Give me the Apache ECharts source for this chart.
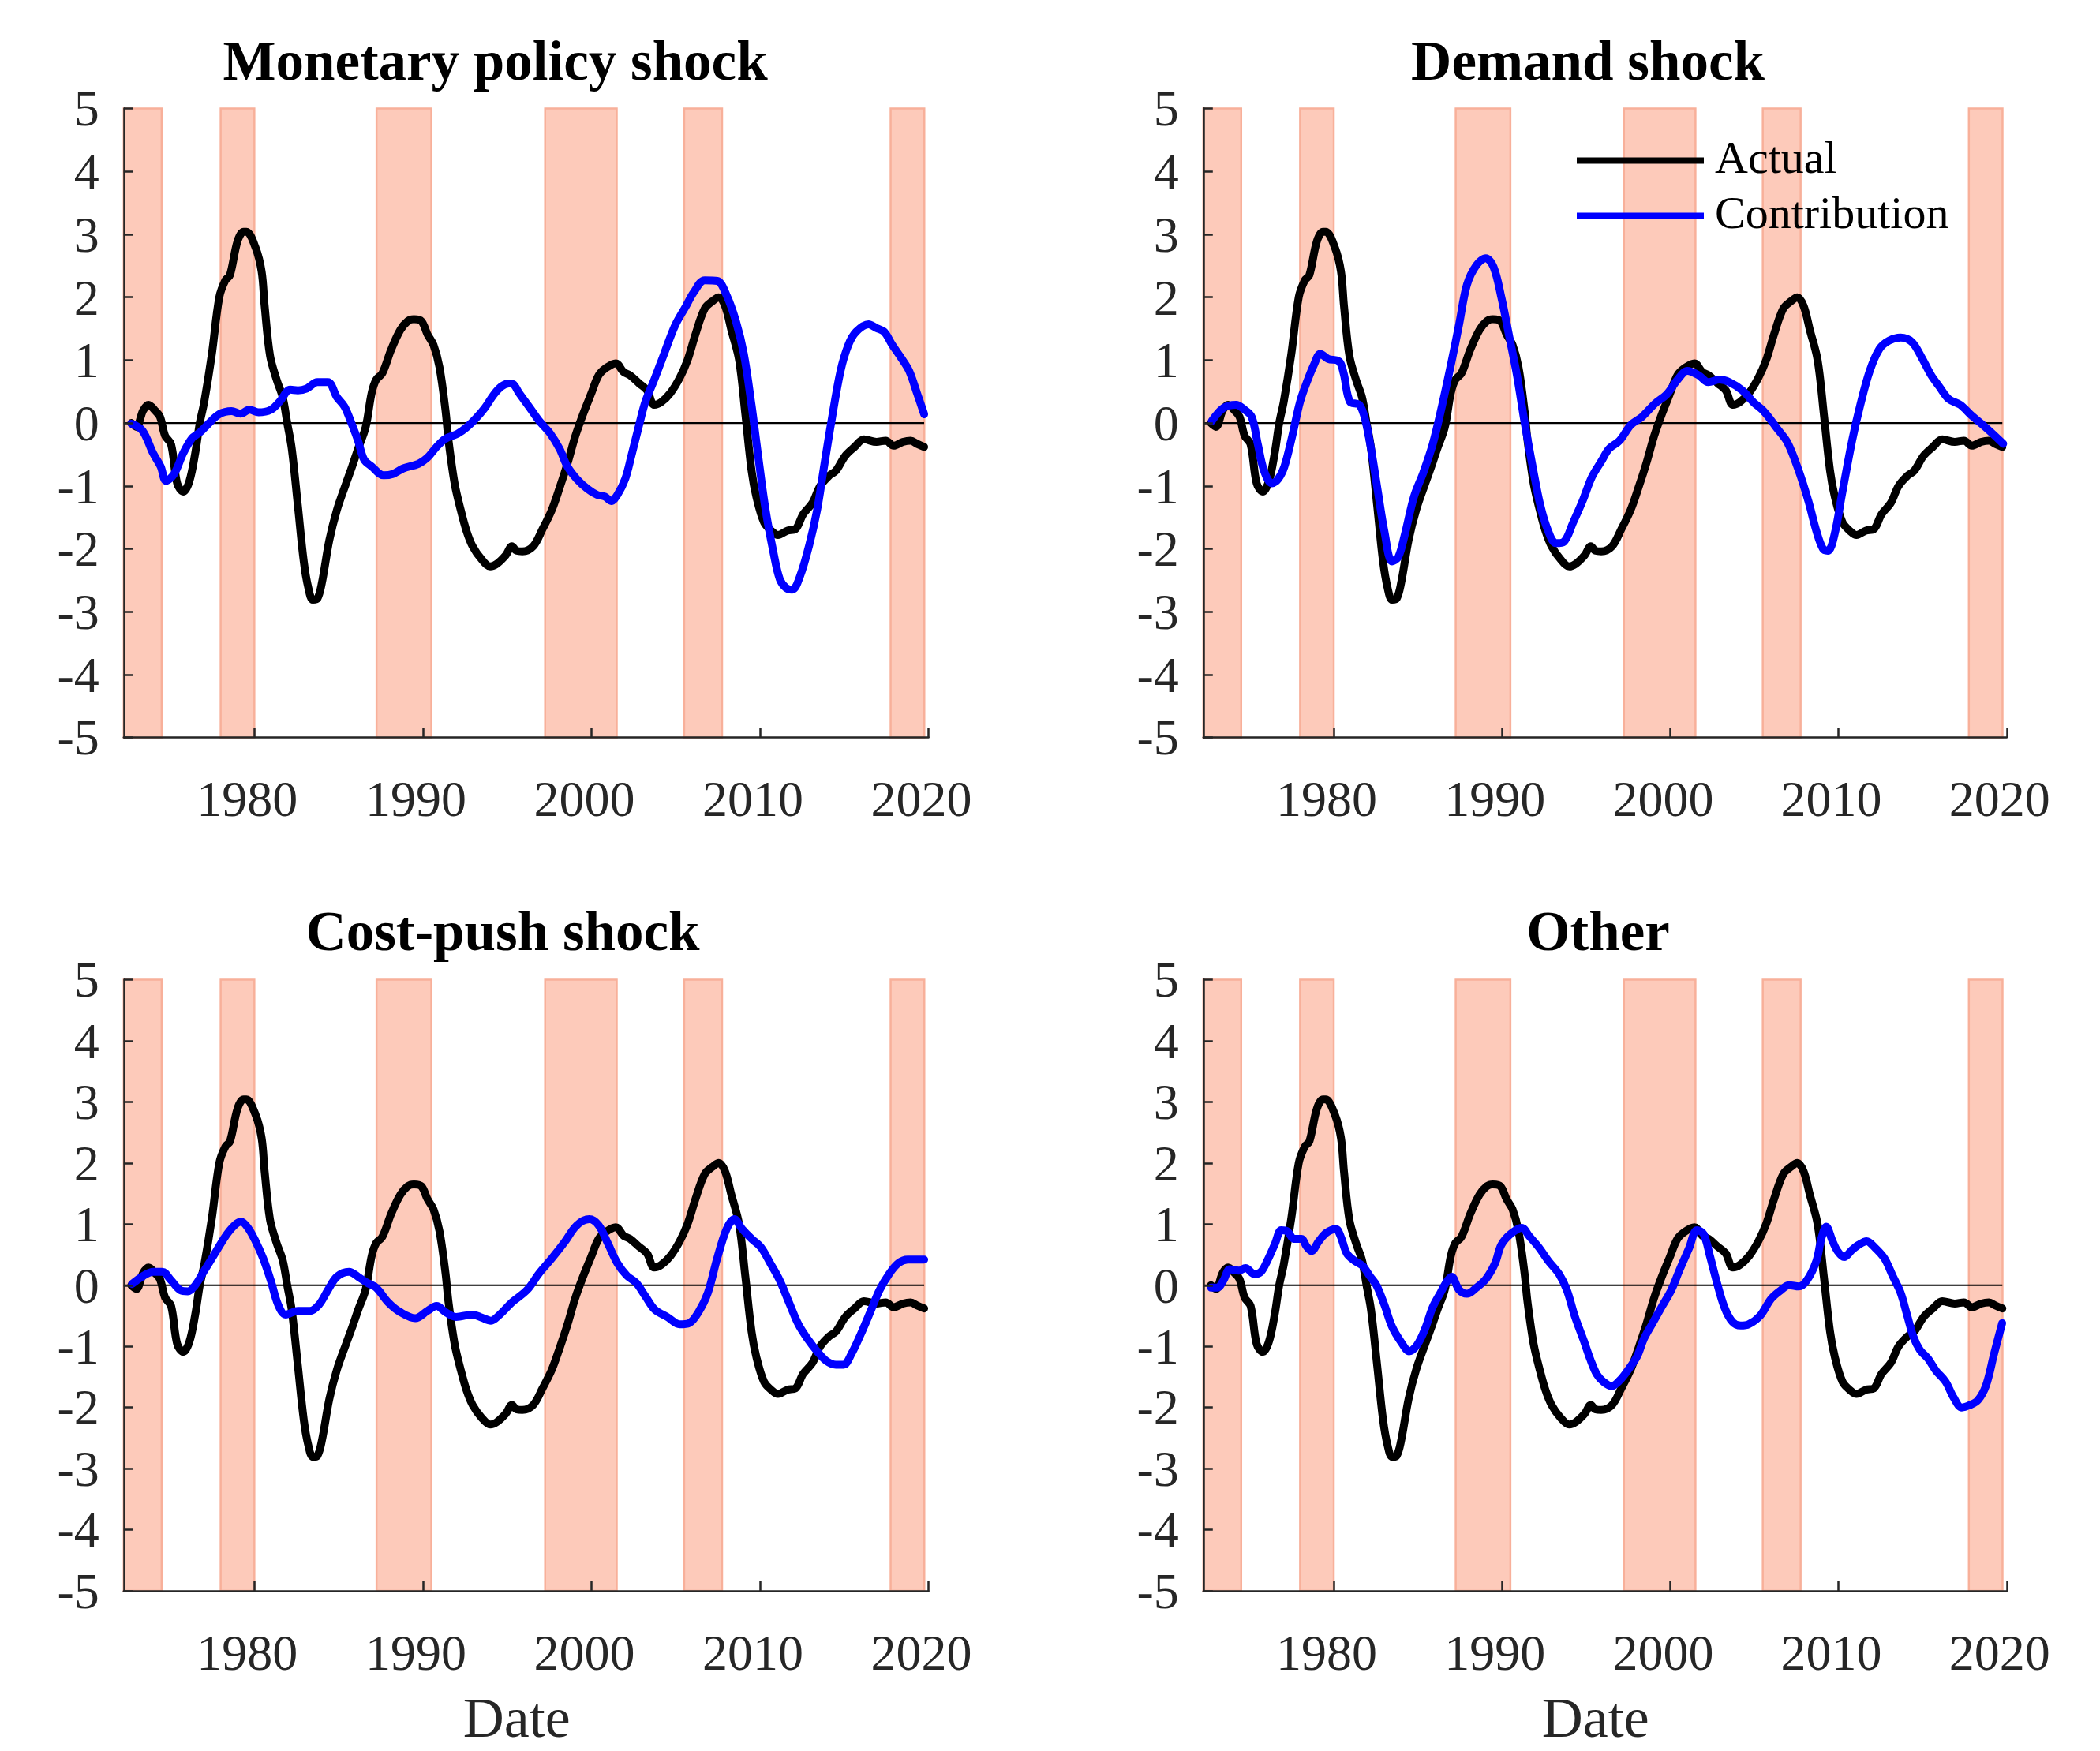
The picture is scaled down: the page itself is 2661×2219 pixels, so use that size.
<!DOCTYPE html>
<html>
<head>
<meta charset="utf-8">
<script src="https://cdn.jsdelivr.net/npm/echarts@6/dist/echarts.min.js"></script>
<style>
html,body{margin:0;padding:0;background:#ffffff;}
#chart{width:2661px;height:2219px;}
</style>
</head>
<body>
<div id="chart"></div>
<script>
// ---------------- DATA ----------------
const panelTitles = ['Monetary policy shock', 'Demand shock', 'Cost-push shock', 'Other'];
const seriesNames = ['Actual', 'Contribution'];
const xTickLabels = [1980, 1990, 2000, 2010, 2020];
const yTickLabels = [-5, -4, -3, -2, -1, 0, 1, 2, 3, 4, 5];
const dateMin = 1972.25;
const dateMax = 2020;
const shadeStart = [1972.25, 1978.0, 1987.25, 1997.25, 2005.5, 2017.75];
const shadeEnd   = [1974.5, 1980.0, 1990.5, 2001.5, 2007.75, 2019.75];

const actual = [[1972.70,0.0],[1973.0,-0.06],[1973.4,0.2],[1973.72,0.29],[1974.1,0.2],[1974.4,0.1],[1974.7,-0.2],[1975.06,-0.34],[1975.42,-0.96],[1975.78,-1.09],[1976.14,-0.93],[1976.49,-0.48],[1976.76,0.0],[1977.03,0.34],[1977.48,1.10],[1977.92,2.0],[1978.28,2.27],[1978.55,2.35],[1979.0,2.89],[1979.36,3.04],[1979.53,3.04],[1980.07,2.79],[1980.43,2.41],[1980.61,1.86],[1980.93,1.07],[1981.32,0.69],[1981.68,0.41],[1981.95,0.0],[1982.22,-0.41],[1982.58,-1.31],[1982.93,-2.2],[1983.2,-2.62],[1983.47,-2.81],[1983.74,-2.79],[1984.0,-2.55],[1984.45,-1.86],[1984.9,-1.38],[1985.44,-0.96],[1985.8,-0.69],[1986.15,-0.41],[1986.6,-0.07],[1986.96,0.48],[1987.23,0.69],[1987.59,0.79],[1988.12,1.17],[1988.66,1.48],[1989.1,1.62],[1989.46,1.65],[1989.91,1.62],[1990.27,1.41],[1990.63,1.24],[1990.98,0.89],[1991.34,0.2],[1991.52,-0.28],[1991.88,-0.96],[1992.24,-1.38],[1992.59,-1.72],[1992.95,-1.96],[1993.49,-2.17],[1993.99,-2.28],[1994.38,-2.24],[1994.92,-2.1],[1995.28,-1.96],[1995.55,-2.03],[1995.9,-2.04],[1996.54,-1.96],[1997.09,-1.69],[1997.65,-1.38],[1998.11,-1.03],[1998.57,-0.65],[1999.04,-0.21],[1999.5,0.14],[1999.96,0.45],[2000.43,0.76],[2000.89,0.88],[2001.44,0.95],[2001.91,0.81],[2002.28,0.76],[2002.83,0.63],[2003.3,0.52],[2003.72,0.29],[2004.13,0.33],[2004.69,0.48],[2005.24,0.72],[2005.7,1.0],[2006.17,1.41],[2006.72,1.82],[2007.19,1.94],[2007.56,2.0],[2007.93,1.86],[2008.3,1.48],[2008.76,1.0],[2009.13,0.14],[2009.5,-0.76],[2009.78,-1.17],[2010.24,-1.58],[2010.7,-1.72],[2011.07,-1.78],[2011.63,-1.71],[2012.09,-1.69],[2012.56,-1.45],[2013.11,-1.27],[2013.57,-1.0],[2014.13,-0.83],[2014.5,-0.76],[2015.06,-0.52],[2015.61,-0.38],[2016.17,-0.26],[2016.91,-0.3],[2017.46,-0.28],[2017.93,-0.36],[2018.48,-0.3],[2018.94,-0.28],[2019.31,-0.33],[2019.74,-0.38]];

const monetaryPolicy = [[1972.70,-0.01],[1973.36,-0.12],[1973.99,-0.48],[1974.44,-0.69],[1974.76,-0.92],[1975.24,-0.81],[1975.78,-0.48],[1976.31,-0.24],[1976.76,-0.15],[1977.21,-0.03],[1977.92,0.14],[1978.64,0.19],[1979.18,0.15],[1979.71,0.21],[1980.25,0.17],[1980.97,0.21],[1981.5,0.34],[1982.13,0.53],[1982.58,0.52],[1983.11,0.55],[1983.74,0.65],[1984.36,0.65],[1984.9,0.41],[1985.35,0.26],[1985.8,-0.03],[1986.15,-0.28],[1986.51,-0.58],[1986.96,-0.69],[1987.67,-0.83],[1988.21,-0.81],[1988.84,-0.72],[1989.73,-0.65],[1990.27,-0.55],[1990.81,-0.38],[1991.34,-0.25],[1992.06,-0.17],[1992.59,-0.07],[1993.13,0.07],[1993.67,0.24],[1994.2,0.45],[1994.65,0.58],[1995.1,0.63],[1995.35,0.62],[1995.7,0.48],[1996.35,0.24],[1996.91,0.03],[1997.56,-0.17],[1998.11,-0.41],[1998.57,-0.69],[1999.13,-0.89],[1999.78,-1.05],[2000.33,-1.14],[2000.8,-1.17],[2001.17,-1.24],[2001.54,-1.14],[2002.0,-0.89],[2002.37,-0.52],[2002.83,-0.03],[2003.2,0.34],[2003.67,0.65],[2004.31,1.1],[2004.96,1.55],[2005.61,1.86],[2006.07,2.08],[2006.72,2.27],[2007.46,2.26],[2008.02,2.03],[2008.57,1.62],[2009.04,1.1],[2009.5,0.28],[2009.87,-0.48],[2010.33,-1.38],[2010.8,-2.06],[2011.17,-2.48],[2011.54,-2.62],[2011.91,-2.65],[2012.37,-2.44],[2012.93,-1.93],[2013.39,-1.38],[2013.76,-0.76],[2014.22,0.0],[2014.78,0.83],[2015.24,1.24],[2015.7,1.45],[2016.44,1.57],[2016.91,1.51],[2017.37,1.45],[2017.83,1.25],[2018.39,1.03],[2018.85,0.83],[2019.31,0.48],[2019.74,0.14]];

const demand = [[1972.75,0.03],[1973.45,0.24],[1974.19,0.29],[1974.66,0.22],[1975.12,0.1],[1975.49,-0.34],[1975.86,-0.76],[1976.33,-0.96],[1976.7,-0.89],[1977.07,-0.69],[1977.53,-0.21],[1978.0,0.34],[1978.46,0.69],[1978.83,0.93],[1979.2,1.1],[1979.67,1.02],[1980.32,0.98],[1980.59,0.79],[1980.96,0.34],[1981.52,0.29],[1981.89,0.03],[1982.26,-0.48],[1982.63,-1.1],[1983.01,-1.72],[1983.47,-2.2],[1983.84,-2.13],[1984.21,-1.79],[1984.77,-1.17],[1985.32,-0.79],[1985.88,-0.34],[1986.44,0.28],[1986.99,0.96],[1987.46,1.58],[1987.92,2.2],[1988.48,2.51],[1989.04,2.62],[1989.5,2.48],[1989.96,2.0],[1990.43,1.38],[1990.89,0.76],[1991.35,0.0],[1991.82,-0.69],[1992.28,-1.31],[1992.75,-1.72],[1993.21,-1.91],[1993.67,-1.89],[1994.23,-1.58],[1994.79,-1.24],[1995.34,-0.86],[1995.9,-0.61],[1996.36,-0.41],[1996.99,-0.28],[1997.66,-0.03],[1998.33,0.1],[1999.1,0.31],[1999.77,0.45],[2000.44,0.69],[2001.02,0.83],[2001.69,0.76],[2002.26,0.65],[2002.94,0.69],[2003.51,0.65],[2004.28,0.52],[2004.95,0.33],[2005.62,0.17],[2006.39,-0.1],[2006.97,-0.31],[2007.64,-0.76],[2008.21,-1.24],[2008.69,-1.72],[2009.08,-2.0],[2009.37,-2.03],[2009.75,-1.79],[2010.23,-1.1],[2010.81,-0.28],[2011.29,0.28],[2011.86,0.83],[2012.44,1.18],[2013.01,1.31],[2013.69,1.36],[2014.36,1.29],[2014.93,1.05],[2015.51,0.76],[2015.99,0.58],[2016.56,0.38],[2017.24,0.29],[2017.91,0.12],[2018.58,-0.03],[2019.16,-0.17],[2019.79,-0.33]];

const costPush = [[1972.74,0.02],[1973.45,0.16],[1973.99,0.22],[1974.53,0.22],[1975.06,0.08],[1975.6,-0.08],[1976.05,-0.1],[1976.49,0.0],[1977.03,0.24],[1977.66,0.52],[1978.28,0.8],[1978.82,0.98],[1979.21,1.04],[1979.62,0.94],[1980.07,0.72],[1980.52,0.44],[1980.97,0.08],[1981.41,-0.32],[1981.86,-0.48],[1982.58,-0.42],[1983.29,-0.42],[1983.83,-0.32],[1984.36,-0.08],[1984.9,0.14],[1985.62,0.22],[1986.15,0.14],[1986.69,0.04],[1987.23,-0.04],[1987.94,-0.28],[1988.66,-0.44],[1989.55,-0.54],[1990.27,-0.42],[1990.81,-0.34],[1991.34,-0.44],[1991.97,-0.52],[1992.95,-0.48],[1993.49,-0.53],[1994.03,-0.58],[1994.56,-0.48],[1995.28,-0.28],[1996.17,-0.08],[1996.91,0.2],[1997.65,0.44],[1998.39,0.7],[1999.13,0.98],[1999.87,1.08],[2000.43,0.98],[2000.98,0.68],[2001.54,0.36],[2002.09,0.16],[2002.65,0.04],[2003.2,-0.18],[2003.76,-0.4],[2004.5,-0.52],[2005.24,-0.64],[2005.8,-0.62],[2006.35,-0.44],[2006.91,-0.12],[2007.46,0.44],[2008.02,0.92],[2008.48,1.08],[2008.94,0.92],[2009.5,0.76],[2010.06,0.62],[2010.61,0.36],[2011.17,0.08],[2011.72,-0.28],[2012.28,-0.64],[2012.83,-0.88],[2013.39,-1.08],[2013.94,-1.24],[2014.5,-1.3],[2014.96,-1.3],[2015.43,-1.12],[2015.98,-0.8],[2016.54,-0.44],[2017.09,-0.08],[2017.65,0.18],[2018.2,0.36],[2018.76,0.42],[2019.31,0.42],[2019.74,0.42]];

const other = [[1972.71,-0.04],[1973.08,-0.04],[1973.45,0.08],[1973.82,0.26],[1974.38,0.24],[1974.75,0.28],[1975.31,0.18],[1975.68,0.22],[1976.05,0.4],[1976.51,0.68],[1976.88,0.9],[1977.25,0.88],[1977.63,0.76],[1978.09,0.76],[1978.37,0.64],[1978.68,0.56],[1979.11,0.72],[1979.57,0.86],[1980.13,0.92],[1980.41,0.8],[1980.78,0.52],[1981.24,0.4],[1981.71,0.32],[1982.17,0.14],[1982.54,0.0],[1983.01,-0.32],[1983.47,-0.68],[1984.03,-0.94],[1984.49,-1.08],[1984.95,-0.98],[1985.42,-0.72],[1985.88,-0.36],[1986.35,-0.12],[1986.72,0.06],[1987.0,0.14],[1987.46,-0.08],[1987.92,-0.14],[1988.48,-0.04],[1989.04,0.1],[1989.59,0.36],[1989.96,0.66],[1990.52,0.84],[1991.17,0.94],[1991.63,0.8],[1992.19,0.62],[1992.75,0.4],[1993.4,0.18],[1993.86,-0.08],[1994.32,-0.5],[1994.88,-0.92],[1995.26,-1.22],[1995.64,-1.46],[1996.03,-1.58],[1996.51,-1.65],[1996.99,-1.56],[1997.56,-1.36],[1998.04,-1.16],[1998.43,-0.88],[1998.91,-0.64],[1999.48,-0.36],[2000.06,-0.08],[2000.54,0.24],[2001.11,0.6],[2001.59,0.9],[2001.98,0.84],[2002.36,0.48],[2002.74,0.08],[2003.22,-0.36],[2003.7,-0.6],[2004.18,-0.66],[2004.66,-0.64],[2005.34,-0.5],[2006.0,-0.22],[2006.58,-0.08],[2007.06,0.0],[2007.64,-0.02],[2008.12,0.08],[2008.69,0.4],[2008.98,0.76],[2009.27,0.96],[2009.65,0.72],[2009.94,0.56],[2010.33,0.46],[2010.81,0.58],[2011.19,0.66],[2011.67,0.72],[2012.15,0.62],[2012.73,0.44],[2013.21,0.16],[2013.69,-0.12],[2014.07,-0.48],[2014.45,-0.84],[2014.84,-1.06],[2015.32,-1.2],[2015.8,-1.4],[2016.37,-1.58],[2016.85,-1.84],[2017.33,-2.0],[2017.81,-1.96],[2018.29,-1.88],[2018.77,-1.64],[2019.25,-1.12],[2019.73,-0.62]];

const contributions = [monetaryPolicy, demand, costPush, other];

// ---------------- LAYOUT / STYLE ----------------
const FONT = '"Liberation Serif", "Times New Roman", Times, serif';
const TEXT_GRAY = '#262626';
const grids = [
  {left: 156.8, top: 137.6, width: 1019.8, height: 797},
  {left: 1524.8, top: 137.6, width: 1018, height: 797},
  {left: 156.8, top: 1241.5, width: 1019.8, height: 797.1},
  {left: 1524.8, top: 1241.5, width: 1018, height: 797.1}
];
const titlePos = [[627.5, 47.5], [2012, 47.5], [637, 1150.5], [2025, 1150.5]];

const xAxes = [], yAxes = [], series = [], titles = [];
for (let i = 0; i < 4; i++) {
  const bottom = i >= 2;
  xAxes.push({
    gridIndex: i, type: 'value', min: dateMin, max: dateMax, z: 10,
    axisLine: {show: true, onZero: false, lineStyle: {color: TEXT_GRAY, width: 2.5}},
    axisTick: {show: true, inside: true, length: 12, customValues: xTickLabels,
               lineStyle: {color: TEXT_GRAY, width: 2.5}},
    axisLabel: {show: true, customValues: xTickLabels, margin: 51, fontFamily: FONT,
                fontSize: 64, color: TEXT_GRAY, padding: [0, 18, 0, 0],
                formatter: v => String(v)},
    splitLine: {show: false},
    name: bottom ? 'Date' : '', nameLocation: 'middle', nameGap: 130,
    nameTextStyle: {fontFamily: FONT, fontSize: 72, color: TEXT_GRAY, padding: [0, 24, 0, 0]}
  });
  yAxes.push({
    gridIndex: i, type: 'value', min: yTickLabels[0], max: yTickLabels[yTickLabels.length - 1],
    interval: 1, z: 10,
    axisLine: {show: true, onZero: false, lineStyle: {color: TEXT_GRAY, width: 2.5}},
    axisTick: {show: true, inside: true, length: 12, lineStyle: {color: TEXT_GRAY, width: 2.5}},
    axisLabel: {show: true, margin: 31, fontFamily: FONT, fontSize: 64, lineHeight: 64,
                color: TEXT_GRAY, verticalAlign: 'top', padding: [-27, 0, 0, 0]},
    splitLine: {show: false}
  });
  const lastDate = actual[actual.length - 1][0];
  series.push({
    type: 'line', name: 'zero', xAxisIndex: i, yAxisIndex: i, z: 2,
    data: [[dateMin, 0], [lastDate, 0]], symbol: 'none', silent: true,
    lineStyle: {color: '#000000', width: 2.2},
    markArea: {
      silent: true, z: 1,
      itemStyle: {color: '#FDCABA', borderColor: '#F8B09A', borderWidth: 2.5},
      label: {show: false},
      data: shadeStart.map((s, k) => [{xAxis: s}, {xAxis: shadeEnd[k]}])
    }
  });
  series.push({
    type: 'line', name: seriesNames[0], xAxisIndex: i, yAxisIndex: i, z: 3,
    data: actual, symbol: 'none', showSymbol: false, smooth: 0.35,
    color: '#000000', itemStyle: {color: '#000000'},
    lineStyle: {color: '#000000', width: 10, join: 'round', cap: 'round'}
  });
  series.push({
    type: 'line', name: seriesNames[1], xAxisIndex: i, yAxisIndex: i, z: 4,
    data: contributions[i], symbol: 'none', showSymbol: false, smooth: 0.35,
    color: '#0000FF', itemStyle: {color: '#0000FF'},
    lineStyle: {color: '#0000FF', width: 10, join: 'round', cap: 'round'}
  });
  titles.push({
    text: panelTitles[i], left: titlePos[i][0], top: titlePos[i][1],
    textAlign: 'center', padding: 0,
    textStyle: {fontFamily: FONT, fontWeight: 'bold', fontSize: 71, lineHeight: 71, color: '#000000'}
  });
}

const chart = echarts.init(document.getElementById('chart'), null, {renderer: 'canvas'});
chart.setOption({
  backgroundColor: '#ffffff',
  animation: false,
  title: titles,
  legend: {
    data: seriesNames, orient: 'vertical', left: 1998, top: 174.5, padding: 0,
    icon: 'rect', itemWidth: 161, itemHeight: 8, itemGap: 12,
    selectedMode: false,
    textStyle: {fontFamily: FONT, fontSize: 58, lineHeight: 58, color: '#000000', padding: [0, 0, 0, 9]}
  },
  grid: grids,
  xAxis: xAxes,
  yAxis: yAxes,
  series: series
});
</script>
</body>
</html>
